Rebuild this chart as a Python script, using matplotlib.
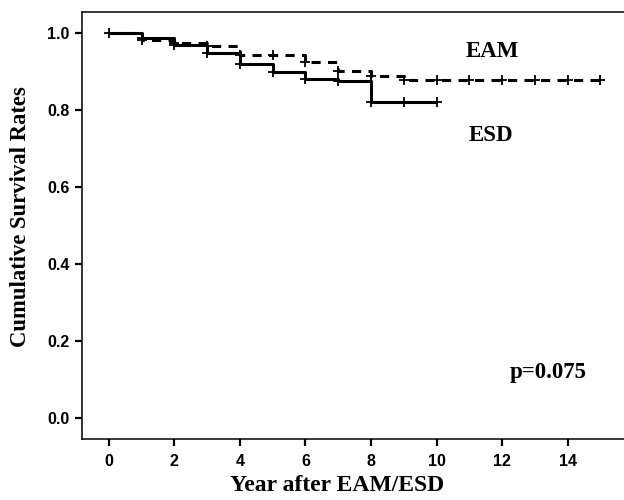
import numpy as np
import matplotlib
matplotlib.use("Agg")
import matplotlib.pyplot as plt

# Kaplan-Meier step data
esd_times = [0, 1, 2, 3, 4, 5, 6, 7, 8, 10]
esd_surv = [1.0, 0.986, 0.970, 0.948, 0.919, 0.899, 0.881, 0.875, 0.822, 0.822]
eam_times = [0, 1, 2, 3, 4, 6, 7, 8, 9, 15]
eam_surv = [1.0, 0.981, 0.974, 0.965, 0.944, 0.924, 0.902, 0.887, 0.878, 0.878]

# censor marks
esd_censor = [0, 1, 2, 3, 4, 5, 6, 7, 8, 9, 10]
eam_censor = [1, 2, 3, 4, 5, 6, 7, 8, 9, 10, 11, 12, 13, 14, 15]

xticks = [0, 2, 4, 6, 8, 10, 12, 14]
yticks = [0.0, 0.2, 0.4, 0.6, 0.8, 1.0]
ytick_labels = ["0.0", "0.2", "0.4", "0.6", "0.8", "1.0"]


def surv_at(times, surv, t):
    idx = np.searchsorted(times, t, side="right") - 1
    return np.asarray(surv)[idx]


fig = plt.figure(figsize=(6.24, 5.0), dpi=100)
ax = fig.add_axes([82 / 624, 61 / 500, 1 - 82 / 624, 427 / 500])

lw = 2.2
ax.step(esd_times, esd_surv, where="post", color="black", lw=lw, solid_capstyle="butt")
ax.step(eam_times, eam_surv, where="post", color="black", lw=lw,
        linestyle=(0, (3, 2.4)), dash_capstyle="butt")

ax.plot(esd_censor, surv_at(esd_times, esd_surv, esd_censor), "+", color="black",
        ms=6.5, mew=1.3, linestyle="none")
ax.plot(eam_censor, surv_at(eam_times, eam_surv, eam_censor), "+", color="black",
        ms=6.5, mew=1.3, linestyle="none")

ax.set_xlim(-0.82, 15.72)
ax.set_ylim(-0.0545, 1.0545)

ax.spines["right"].set_visible(False)
for s in ["left", "bottom", "top"]:
    ax.spines[s].set_linewidth(1.1)

ax.set_xticks(xticks)
ax.set_xticklabels([str(v) for v in xticks])
ax.set_yticks(yticks)
ax.set_yticklabels(ytick_labels)
ax.tick_params(axis="both", direction="out", length=5, width=1.6, color="black")
for lab in ax.get_xticklabels() + ax.get_yticklabels():
    lab.set_fontfamily("Liberation Sans")
    lab.set_fontweight("bold")
    lab.set_fontsize(11.5)
ax.tick_params(axis="x", pad=6)
ax.tick_params(axis="y", pad=4)

ax.set_xlabel("Year after EAM/ESD", fontfamily="Liberation Serif", fontweight="bold",
              fontsize=17)
ax.xaxis.set_label_coords(0.47, -0.084)
ax.set_ylabel("Cumulative Survival Rates", fontfamily="Liberation Serif", fontweight="bold",
              fontsize=16.3)
ax.yaxis.set_label_coords(-0.094, 0.52)

ax.text(11.7, 0.952, "EAM", fontfamily="Liberation Serif", fontweight="bold",
        fontsize=16.5, ha="center", va="center")
ax.text(11.67, 0.735, "ESD", fontfamily="Liberation Serif", fontweight="bold",
        fontsize=16.5, ha="center", va="center")
ax.text(13.4, 0.118, "p=0.075", fontfamily="Liberation Serif", fontweight="bold",
        fontsize=16.5, ha="center", va="center")

fig.savefig("out.png", dpi=100)
